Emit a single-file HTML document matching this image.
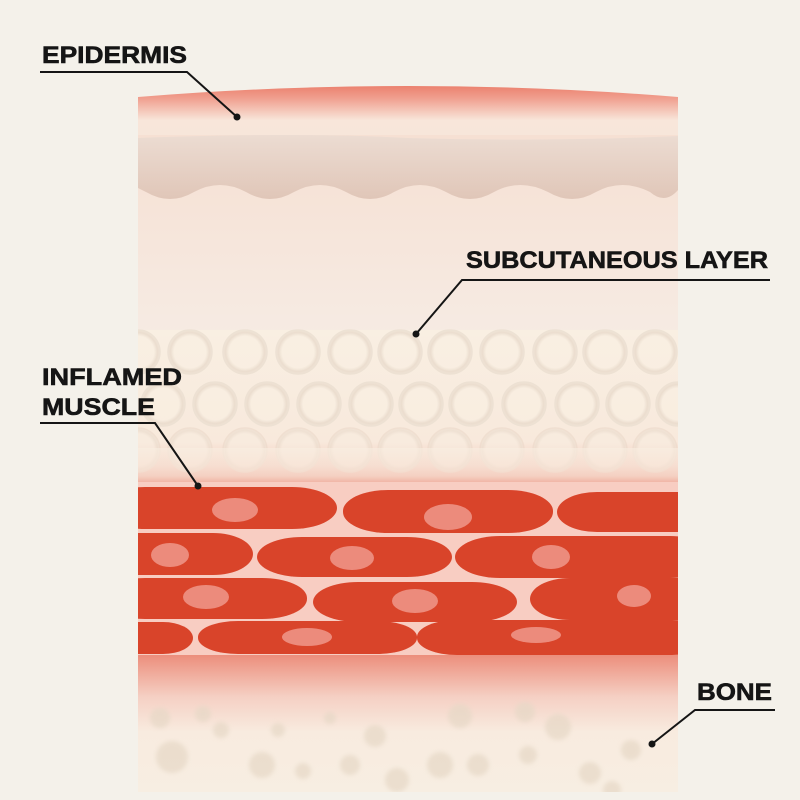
<!DOCTYPE html>
<html><head><meta charset="utf-8"><style>
html,body{margin:0;padding:0;background:#f4f1ea;}
svg{display:block}
text{font-family:"Liberation Sans",sans-serif;font-weight:bold;fill:#151515;}
</style></head><body>
<svg width="800" height="800" viewBox="0 0 800 800" xmlns="http://www.w3.org/2000/svg">
<defs>
<linearGradient id="epi" x1="0" y1="0" x2="0" y2="1">
<stop offset="0" stop-color="#e9735f"/><stop offset="0.3" stop-color="#f0a090"/><stop offset="0.65" stop-color="#f8e6da"/><stop offset="1" stop-color="#f6e6da"/>
</linearGradient>
<linearGradient id="tan" x1="0" y1="0" x2="0" y2="1">
<stop offset="0" stop-color="#ecdcd2"/><stop offset="1" stop-color="#e0c6b8"/>
</linearGradient>
<linearGradient id="derm" x1="0" y1="0" x2="0" y2="1">
<stop offset="0" stop-color="#f6e0d3"/><stop offset="1" stop-color="#f6ebe3"/>
</linearGradient>
<linearGradient id="fat" x1="0" y1="0" x2="0" y2="1">
<stop offset="0" stop-color="#f9efe2"/><stop offset="0.7" stop-color="#f8e9dc"/><stop offset="0.85" stop-color="#f4cabc"/><stop offset="1" stop-color="#e9806c"/>
</linearGradient>
<linearGradient id="below" x1="0" y1="0" x2="0" y2="1">
<stop offset="0" stop-color="#ec8e7c"/><stop offset="0.3" stop-color="#f5d0c4"/><stop offset="0.55" stop-color="#f8ebdf"/><stop offset="1" stop-color="#f7eee2"/>
</linearGradient>
<radialGradient id="fc" cx="0.5" cy="0.5" r="0.5">
<stop offset="0.72" stop-color="#f9efe2" stop-opacity="0.9"/><stop offset="0.88" stop-color="#e8dacb"/><stop offset="1" stop-color="#efe2d4"/>
</radialGradient>
<filter id="bl"><feGaussianBlur stdDeviation="2"/></filter>
<clipPath id="pc"><path d="M138 97 Q408 75 678 97 L678 792 L138 792 Z"/></clipPath>
</defs>
<g clip-path="url(#pc)">
<rect x="138" y="80" width="540" height="62" fill="url(#epi)"/>
<rect x="138" y="135" width="540" height="200" fill="url(#derm)"/>
<path d="M138 138 Q300 132 408 138 Q550 142 678 136 L678 190 Q665 205 650 192 Q622 178 596 192 Q572 206 548 192 Q520 178 494 192 Q470 206 446 192 Q420 178 394 192 Q370 206 346 192 Q320 178 294 192 Q270 206 246 192 Q220 178 194 192 Q170 206 146 192 L138 188 Z" fill="url(#tan)"/>
<rect x="138" y="330" width="540" height="160" fill="url(#fat)"/>
<g fill="url(#fc)" stroke="#ebdfd1" stroke-width="1.5" opacity="0.8">
<circle cx="138" cy="352" r="22"/><circle cx="190" cy="352" r="22"/><circle cx="245" cy="352" r="22"/><circle cx="298" cy="352" r="22"/><circle cx="350" cy="352" r="22"/><circle cx="400" cy="352" r="22"/><circle cx="450" cy="352" r="22"/><circle cx="502" cy="352" r="22"/><circle cx="555" cy="352" r="22"/><circle cx="605" cy="352" r="22"/><circle cx="655" cy="352" r="22"/>
<circle cx="163" cy="404" r="22"/><circle cx="215" cy="404" r="22"/><circle cx="267" cy="404" r="22"/><circle cx="319" cy="404" r="22"/><circle cx="371" cy="404" r="22"/><circle cx="421" cy="404" r="22"/><circle cx="471" cy="404" r="22"/><circle cx="524" cy="404" r="22"/><circle cx="577" cy="404" r="22"/><circle cx="628" cy="404" r="22"/><circle cx="678" cy="404" r="22"/>
</g>
<g fill="url(#fc)" stroke="#ead7c8" stroke-width="1.5" opacity="0.55">
<circle cx="138" cy="450" r="22"/><circle cx="190" cy="450" r="22"/><circle cx="245" cy="450" r="22"/><circle cx="298" cy="450" r="22"/><circle cx="350" cy="450" r="22"/><circle cx="400" cy="450" r="22"/><circle cx="450" cy="450" r="22"/><circle cx="502" cy="450" r="22"/><circle cx="555" cy="450" r="22"/><circle cx="605" cy="450" r="22"/><circle cx="655" cy="450" r="22"/>
</g>
<rect x="138" y="448" width="540" height="40" fill="url(#fat)" opacity="0.6"/>
<rect x="138" y="482" width="540" height="175" fill="#f8cdc2"/>
<g fill="#d9442a">
<rect x="100" y="487" width="237" height="42" rx="45" ry="21"/>
<rect x="343" y="490" width="210" height="43" rx="45" ry="21"/>
<rect x="557" y="492" width="160" height="40" rx="40" ry="20"/>
<rect x="100" y="533" width="153" height="42" rx="40" ry="21"/>
<rect x="257" y="537" width="195" height="40" rx="45" ry="20"/>
<rect x="455" y="536" width="260" height="42" rx="45" ry="21"/>
<rect x="100" y="578" width="207" height="41" rx="45" ry="20"/>
<rect x="313" y="582" width="204" height="40" rx="45" ry="20"/>
<rect x="530" y="578" width="185" height="42" rx="40" ry="21"/>
<rect x="100" y="622" width="93" height="32" rx="30" ry="16"/>
<rect x="198" y="621" width="219" height="33" rx="40" ry="16"/>
<rect x="417" y="620" width="295" height="35" rx="40" ry="17"/>
</g>
<g fill="#ec8b7c">
<ellipse cx="235" cy="510" rx="23" ry="12"/><ellipse cx="448" cy="517" rx="24" ry="13"/>
<ellipse cx="170" cy="555" rx="19" ry="12"/><ellipse cx="352" cy="558" rx="22" ry="12"/><ellipse cx="551" cy="557" rx="19" ry="12"/>
<ellipse cx="206" cy="597" rx="23" ry="12"/><ellipse cx="415" cy="601" rx="23" ry="12"/><ellipse cx="634" cy="596" rx="17" ry="11"/>
<ellipse cx="307" cy="637" rx="25" ry="9"/><ellipse cx="536" cy="635" rx="25" ry="8"/>
</g>
<rect x="138" y="655" width="540" height="140" fill="url(#below)"/>
<g fill="#e6d8c6" opacity="0.7" filter="url(#bl)">
<circle cx="160" cy="718" r="10"/><circle cx="203" cy="714" r="8"/><circle cx="221" cy="730" r="8"/><circle cx="278" cy="730" r="7"/><circle cx="330" cy="718" r="6"/><circle cx="375" cy="736" r="11"/><circle cx="460" cy="716" r="12"/><circle cx="525" cy="712" r="10"/><circle cx="558" cy="727" r="13"/>
<circle cx="172" cy="757" r="16"/><circle cx="262" cy="765" r="13"/><circle cx="303" cy="771" r="8"/><circle cx="350" cy="765" r="10"/><circle cx="440" cy="765" r="13"/><circle cx="478" cy="765" r="11"/><circle cx="528" cy="755" r="9"/><circle cx="590" cy="773" r="11"/><circle cx="631" cy="750" r="10"/><circle cx="612" cy="790" r="9"/><circle cx="397" cy="780" r="12"/>
</g>
</g>
<g stroke="#151515" stroke-width="2" fill="none">
<polyline points="40,72 187,72 237,117"/>
<polyline points="770,280 462,280 416,334"/>
<polyline points="40,423 155,423 198,486"/>
<polyline points="775,710 695,710 652,744"/>
</g>
<g fill="#151515">
<circle cx="237" cy="117" r="3.5"/><circle cx="416" cy="334" r="3.5"/><circle cx="198" cy="486" r="3.5"/><circle cx="652" cy="744" r="3.5"/>
</g>
<g stroke="#151515" stroke-width="0.6">
<text x="42" y="63" font-size="24" textLength="145" lengthAdjust="spacingAndGlyphs">EPIDERMIS</text>
<text x="466" y="268" font-size="24" textLength="302" lengthAdjust="spacingAndGlyphs">SUBCUTANEOUS LAYER</text>
<text x="42" y="385" font-size="24" textLength="140" lengthAdjust="spacingAndGlyphs">INFLAMED</text>
<text x="42" y="415" font-size="24" textLength="113" lengthAdjust="spacingAndGlyphs">MUSCLE</text>
<text x="697" y="700" font-size="24" textLength="75" lengthAdjust="spacingAndGlyphs">BONE</text>
</g>
</svg>
</body></html>
